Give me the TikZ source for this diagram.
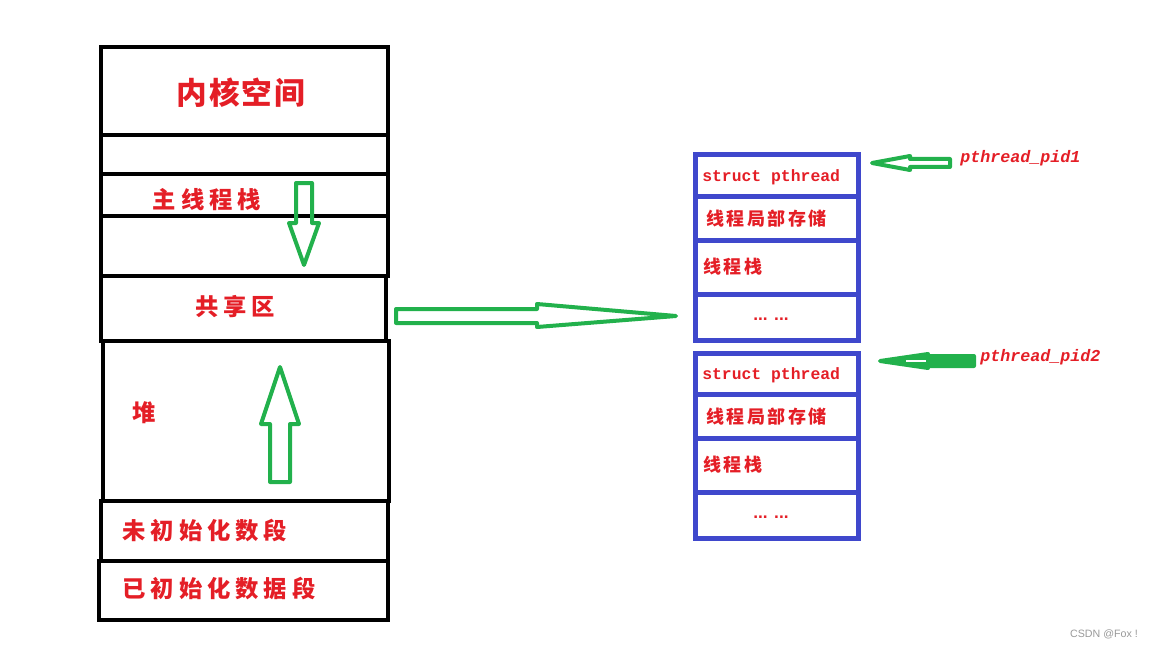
\documentclass[tikz,border=0pt]{standalone}
\usepackage{fontspec}
\newfontfamily\cjk{Noto Sans CJK SC}
\newfontfamily\monob{Liberation Mono}
\newfontfamily\sansf{Liberation Sans}
\definecolor{pred}{RGB}{228,30,38}
\definecolor{pgreen}{RGB}{34,177,76}
\definecolor{pblue}{RGB}{63,72,204}
\tikzset{
  seg/.style={draw=black,line width=3pt},
  tseg/.style={draw=pblue,line width=3.75pt},
  garrow/.style={draw=pgreen,line width=3pt,line join=round},
  bigcn/.style={text=pred,font=\cjk\bfseries\fontsize{23pt}{23pt}\selectfont\addfontfeature{LetterSpace=6},inner sep=0pt},
  cn/.style={text=pred,font=\cjk\bfseries\fontsize{17.5pt}{18pt}\selectfont\addfontfeature{LetterSpace=21},inner sep=0pt},
  smcn/.style={text=pred,font=\cjk\bfseries\fontsize{13.5pt}{14pt}\selectfont\addfontfeature{LetterSpace=14},inner sep=0pt,anchor=west},
  lat/.style={text=pred,font=\monob\bfseries\fontsize{12.3pt}{12.5pt}\selectfont,inner sep=0pt,anchor=west},
  dots/.style={text=pred,font=\sansf\bfseries\fontsize{13pt}{13pt}\selectfont,inner sep=0pt},
}
\begin{document}
\begin{tikzpicture}[x=0.75pt,y=-0.75pt]
\useasboundingbox (0,0) rectangle (1152,649);
% left column
\draw[seg] (101,47) rectangle (388,135);
\draw[seg] (101,135) rectangle (388,174);
\draw[seg] (101,174) rectangle (388,216);
\draw[seg] (101,216) rectangle (388,276);
\draw[seg] (101,276) rectangle (386,341);
\draw[seg] (103,341) rectangle (389,501);
\draw[seg] (101,501) rectangle (388,561);
\draw[seg] (99,561) rectangle (388,620);
\node[bigcn] (kernel) at (241,93) {内核空间};
\node[cn] (mainstack) at (207,200) {主线程栈};
\node[cn] (shared) at (235,307) {共享区};
\node[cn] (heap) at (144,413) {堆};
\node[cn] (bss) at (205,531) {未初始化数段};
\node[cn] (data) at (219,589) {已初始化数据段};
% green arrows in left column
\draw[garrow] (296,183) -- (312,183) -- (312,223) -- (319,223) -- (304,265) -- (289,223) -- (296,223) -- cycle;
\draw[garrow] (270,482) -- (290,482) -- (290,424) -- (299,424) -- (280,367) -- (261,424) -- (270,424) -- cycle;
% big arrow
\draw[garrow] (396,309) -- (537,309) -- (537,304) -- (676,316) -- (537,327) -- (537,323) -- (396,323) -- cycle;
% thread block 1
\draw[tseg] (695,155) rectangle (858,340);
\draw[tseg] (695,196) -- (858,196);
\draw[tseg] (695,240) -- (858,240);
\draw[tseg] (695,294) -- (858,294);
\node[lat] (sp1) at (702,177) {struct pthread};
\node[smcn] (tls1) at (706,219) {线程局部存储};
\node[smcn] (ts1) at (703,267) {线程栈};
\node[dots] (d1) at (771,319) {... ...};
% thread block 2
\draw[tseg] (695,353) rectangle (858,538);
\draw[tseg] (695,394) -- (858,394);
\draw[tseg] (695,438) -- (858,438);
\draw[tseg] (695,492) -- (858,492);
\node[lat] (sp2) at (702,375) {struct pthread};
\node[smcn] (tls2) at (706,417) {线程局部存储};
\node[smcn] (ts2) at (703,465) {线程栈};
\node[dots] (d2) at (771,517) {... ...};
% pid labels and arrows
\node[lat,font=\monob\bfseries\itshape\fontsize{12.5pt}{12.5pt}\selectfont] (pid1) at (960,158) {pthread\_pid1};
\node[lat,font=\monob\bfseries\itshape\fontsize{12.5pt}{12.5pt}\selectfont] (pid2) at (980,357) {pthread\_pid2};
\draw[garrow] (950,159) -- (910,159) -- (910,156) -- (872,163) -- (910,170) -- (910,167) -- (950,167) -- cycle;
\draw[garrow,fill=pgreen] (974,356) -- (928,356) -- (928,354) -- (880,361) -- (928,368) -- (928,366) -- (974,366) -- cycle;
\draw[white,line width=1.2pt] (906,361) -- (926,361);
% watermark
\node[text=gray!80,font=\sansf\fontsize{8pt}{8pt}\selectfont,inner sep=0pt] (wm) at (1104,634) {CSDN @Fox !};
\end{tikzpicture}
\end{document}
